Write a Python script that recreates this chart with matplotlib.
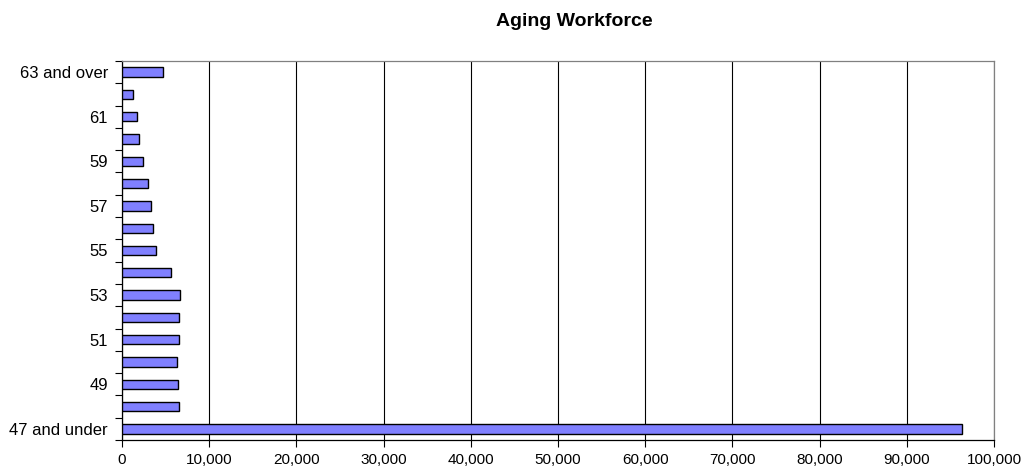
import matplotlib
matplotlib.use("Agg")
import matplotlib.pyplot as plt
import numpy as np

plt.rcParams['font.family'] = ['Liberation Sans', 'DejaVu Sans']

categories = ["47 and under", "48", "49", "50", "51", "52", "53", "54", "55",
              "56", "57", "58", "59", "60", "61", "62", "63 and over"]
employees = [96300, 6570, 6450, 6260, 6570, 6570, 6650, 5650, 3900,
             3550, 3320, 3010, 2360, 1950, 1750, 1260, 4650]
x_ticks = list(range(0, 100001, 10000))

fig = plt.figure(figsize=(10.28, 4.67), dpi=100)
ax = fig.add_axes([122 / 1028, 1 - 440 / 467, (994 - 122) / 1028, (440 - 61) / 467])

pos = np.arange(len(categories))
ax.barh(pos, employees, height=0.42, color="#8080ff", edgecolor="black",
        linewidth=1.0, zorder=3)

ax.set_xlim(0, 100000)
ax.set_ylim(-0.5, len(categories) - 0.5)

ax.set_xticks(x_ticks)
ax.set_xticklabels([f"{v:,}" for v in x_ticks], fontsize=11)
ax.xaxis.grid(True, color="black", linewidth=0.8, zorder=0)

# labels on every other category, tick marks between categories
ax.set_yticks(pos[::2])
ax.set_yticklabels(categories[::2], fontsize=12)
ax.tick_params(axis="y", length=0, pad=10)
ax.set_yticks(np.arange(-0.5, len(categories), 1.0), minor=True)
ax.tick_params(axis="y", which="minor", length=5, width=0.8, color="black")
ax.tick_params(axis="x", length=5, width=0.8, color="black", pad=4)

for side in ("top", "right"):
    ax.spines[side].set_color("#808080")
for side in ("left", "bottom"):
    ax.spines[side].set_color("black")
for s in ax.spines.values():
    s.set_linewidth(0.9)

fig.text(574 / 1028, 1 - 21 / 467, "Aging Workforce", ha="center", va="center",
         fontsize=14, fontweight="bold")

fig.savefig("out.png", dpi=100)
